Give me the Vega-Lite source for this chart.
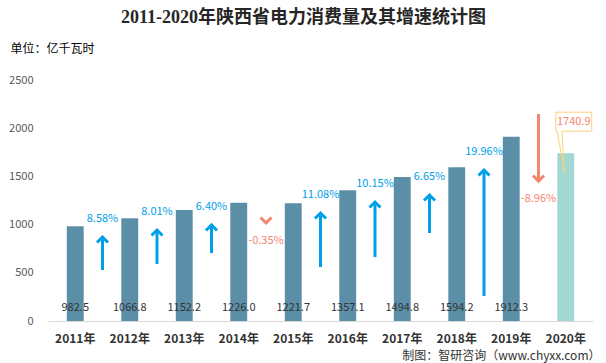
{
  "$schema": "https://vega.github.io/schema/vega-lite/v6.json",
  "width": 545,
  "height": 241,
  "autosize": {"type": "none"},
  "padding": {"left": 48, "top": 80, "right": 13, "bottom": 42},
  "background": "white",
  "title": {
    "text": "2011-2020年陕西省电力消费量及其增速统计图",
    "font": "Liberation Serif, Noto Sans CJK SC",
    "fontSize": 18,
    "fontWeight": "bold",
    "color": "#262626",
    "anchor": "middle",
    "dx": -17,
    "offset": 15
  },
  "config": {"view": {"stroke": null}, "font": "Noto Sans CJK SC"},
  "datasets": {
    "bars": [
      {"year": "2011年", "value": 982.5},
      {"year": "2012年", "value": 1066.8},
      {"year": "2013年", "value": 1152.2},
      {"year": "2014年", "value": 1226.0},
      {"year": "2015年", "value": 1221.7},
      {"year": "2016年", "value": 1357.1},
      {"year": "2017年", "value": 1494.8},
      {"year": "2018年", "value": 1594.2},
      {"year": "2019年", "value": 1912.3},
      {"year": "2020年", "value": 1740.9}
    ],
    "growth": [
      {"year": "2011年", "growth": 0.0858, "start": 529, "tip": 871},
      {"year": "2012年", "growth": 0.0801, "start": 591, "tip": 944},
      {"year": "2013年", "growth": 0.0640, "start": 705, "tip": 996},
      {"year": "2014年", "growth": -0.0035, "start": 1017, "tip": 1017},
      {"year": "2015年", "growth": 0.1108, "start": 560, "tip": 1120},
      {"year": "2016年", "growth": 0.1015, "start": 664, "tip": 1234},
      {"year": "2017年", "growth": 0.0665, "start": 913, "tip": 1307},
      {"year": "2018年", "growth": 0.1996, "start": 259, "tip": 1566},
      {"year": "2019年", "growth": -0.0896, "start": 2147, "tip": 1452}
    ]
  },
  "encoding": {
    "x": {
      "field": "year",
      "type": "nominal",
      "sort": null,
      "scale": {
        "domain": ["2011年", "2012年", "2013年", "2014年", "2015年", "2016年", "2017年", "2018年", "2019年", "2020年"],
        "paddingInner": 0.69,
        "paddingOuter": 0.345
      },
      "axis": {
        "title": "制图：智研咨询（www.chyxx.com）",
        "titleFontSize": 12,
        "titleFontWeight": "normal",
        "titleColor": "#333333",
        "titleX": 552,
        "titleY": 34,
        "titleAlign": "right",
        "titleBaseline": "middle",
        "labelAngle": 0,
        "labelFontSize": 12,
        "labelFontWeight": "bold",
        "labelColor": "#333333",
        "labelPadding": 12,
        "ticks": false,
        "domainColor": "#D9D9D9",
        "domainWidth": 1
      }
    }
  },
  "layer": [
    {
      "data": {"name": "bars"},
      "mark": {"type": "bar"},
      "encoding": {
        "y": {
          "field": "value",
          "type": "quantitative",
          "title": "单位：亿千瓦时",
          "scale": {"domain": [0, 2500], "nice": false},
          "axis": {
            "title": "单位：亿千瓦时",
            "format": "d",
            "titleAngle": 0,
            "titleX": -38,
            "titleY": -32,
            "titleAlign": "left",
            "titleBaseline": "middle",
            "titleFontSize": 12,
            "titleFontWeight": "normal",
            "titleColor": "#000000",
            "domain": false,
            "ticks": false,
            "grid": false,
            "labelPadding": 15,
            "labelFontSize": 11,
            "labelColor": "#595959",
            "values": [0, 500, 1000, 1500, 2000, 2500]
          }
        },
        "color": {
          "condition": {"test": "datum.year === '2020年'", "value": "#A2D7D4"},
          "value": "#5B8FA7"
        }
      }
    },
    {
      "data": {"name": "bars"},
      "transform": [{"filter": "datum.year !== '2020年'"}],
      "mark": {"type": "text", "dy": -13, "fontSize": 11, "color": "#333333", "baseline": "middle"},
      "encoding": {
        "y": {"datum": 0, "type": "quantitative", "title": "单位：亿千瓦时"},
        "text": {"field": "value", "type": "quantitative", "format": ".1f"}
      }
    },
    {
      "data": {"name": "growth"},
      "transform": [{"filter": "datum.start !== datum.tip"}],
      "mark": {"type": "rule", "xOffset": 27.25, "strokeWidth": 3, "strokeCap": "butt"},
      "encoding": {
        "y": {"field": "start", "type": "quantitative", "title": "单位：亿千瓦时"},
        "y2": {"field": "tip"},
        "color": {
          "condition": {"test": "datum.growth < 0", "value": "#F4856E"},
          "value": "#00A0E9"
        }
      }
    },
    {
      "data": {"name": "growth"},
      "mark": {"type": "point", "xOffset": 27.25, "filled": false, "strokeWidth": 3, "opacity": 1, "size": 121},
      "encoding": {
        "y": {"field": "tip", "type": "quantitative", "title": "单位：亿千瓦时"},
        "shape": {
          "condition": {"test": "datum.growth < 0", "value": "M-1,-1L0,0L1,-1"},
          "value": "M-1,1L0,0L1,1"
        },
        "color": {
          "condition": {"test": "datum.growth < 0", "value": "#F4856E"},
          "value": "#00A0E9"
        }
      }
    },
    {
      "data": {"name": "growth"},
      "transform": [
        {"filter": "datum.growth > 0"},
        {"calculate": "replace(format(datum.growth, '.2%'), '\u2212', '-')", "as": "label"}
      ],
      "mark": {"type": "text", "xOffset": 27.25, "dy": -18, "fontSize": 11, "color": "#00A0E9", "baseline": "middle"},
      "encoding": {
        "y": {"field": "tip", "type": "quantitative", "title": "单位：亿千瓦时"},
        "text": {"field": "label", "type": "nominal"}
      }
    },
    {
      "data": {"name": "growth"},
      "transform": [
        {"filter": "datum.growth < 0"},
        {"calculate": "replace(format(datum.growth, '.2%'), '\u2212', '-')", "as": "label"}
      ],
      "mark": {"type": "text", "xOffset": 27.25, "dy": 18, "fontSize": 11, "color": "#F4856E", "baseline": "middle"},
      "encoding": {
        "y": {"field": "tip", "type": "quantitative", "title": "单位：亿千瓦时"},
        "text": {"field": "label", "type": "nominal"}
      }
    },
    {
      "data": {"name": "bars"},
      "transform": [{"filter": "datum.year === '2020年'"}],
      "mark": {
        "type": "point",
        "filled": false,
        "stroke": "#F9D27A",
        "strokeWidth": 1,
        "opacity": 1,
        "size": 400,
        "shape": "M-1.0,-4.1L2.6,-4.1L2.6,-2.2L-0.4,-2.2L-0.1,2.1L-0.85,-2.2L-1.0,-2.2Z"
      },
      "encoding": {
        "y": {"field": "value", "type": "quantitative", "title": "单位：亿千瓦时"}
      }
    },
    {
      "data": {"name": "bars"},
      "transform": [{"filter": "datum.year === '2020年'"}],
      "mark": {"type": "text", "dx": 8, "dy": -31.5, "fontSize": 11, "color": "#F4856E", "baseline": "middle"},
      "encoding": {
        "y": {"field": "value", "type": "quantitative", "title": "单位：亿千瓦时"},
        "text": {"field": "value", "type": "quantitative", "format": ".1f"}
      }
    }
  ]
}
